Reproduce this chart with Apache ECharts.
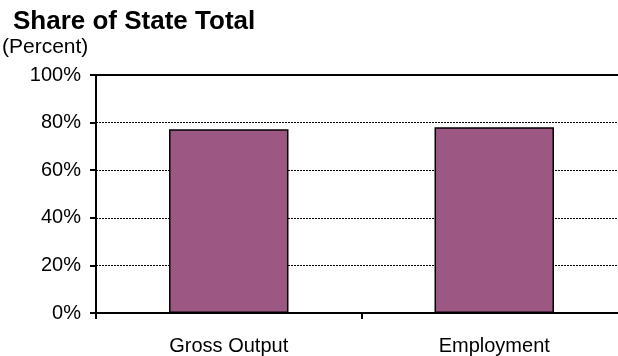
<!DOCTYPE html>
<html>
<head>
<meta charset="utf-8">
<script src="https://cdn.jsdelivr.net/npm/echarts@6/dist/echarts.min.js"></script>
<style>html,body{margin:0;padding:0;background:#fff;}#c{width:618px;height:356px;}</style>
</head>
<body>
<div id="c"></div>
<script>
const categories = ['Gross Output', 'Employment'];
const shareValues = [77.2, 78.0];
const yTicks = [0, 20, 40, 60, 80, 100];

const FONT = '"Liberation Sans", Arial, sans-serif';
const chart = echarts.init(document.getElementById('c'), null, {renderer: 'canvas'});
chart.setOption({
  animation: false,
  backgroundColor: '#fff',
  title: [
    {text: 'Share of State Total', left: 13, top: 9, padding: 0,
     textStyle: {fontFamily: FONT, fontSize: 26, fontWeight: 'bold', color: '#000'}},
    {text: '(Percent)', left: 2, top: 37, padding: 0,
     textStyle: {fontFamily: FONT, fontSize: 21, fontWeight: 'normal', color: '#000'}}
  ],
  grid: {left: 96, top: 75, height: 238, width: 531, outerBoundsMode: 'none', containLabel: false,
         show: true, borderColor: '#000', borderWidth: 2, backgroundColor: 'transparent'},
  xAxis: {
    type: 'category', data: categories,
    axisLine: {lineStyle: {color: '#000', width: 2}},
    axisTick: {show: true, length: 6, lineStyle: {color: '#000', width: 2}},
    axisLabel: {fontFamily: FONT, fontSize: 20, color: '#000', margin: 23}
  },
  yAxis: {
    type: 'value', min: yTicks[0], max: yTicks[yTicks.length - 1], interval: 20,
    axisLine: {show: true, lineStyle: {color: '#000', width: 2}},
    axisTick: {show: true, length: 6, lineStyle: {color: '#000', width: 2}},
    axisLabel: {fontFamily: FONT, fontSize: 20, color: '#000', margin: 15, formatter: '{value}%'},
    splitLine: {show: true, lineStyle: {color: '#000', width: 1, type: [2, 1]}}
  },
  series: [{
    type: 'bar', data: shareValues, barWidth: '45%',
    itemStyle: {color: '#9C5782', borderColor: '#000', borderWidth: 1.5}
  }]
});
</script>
</body>
</html>
